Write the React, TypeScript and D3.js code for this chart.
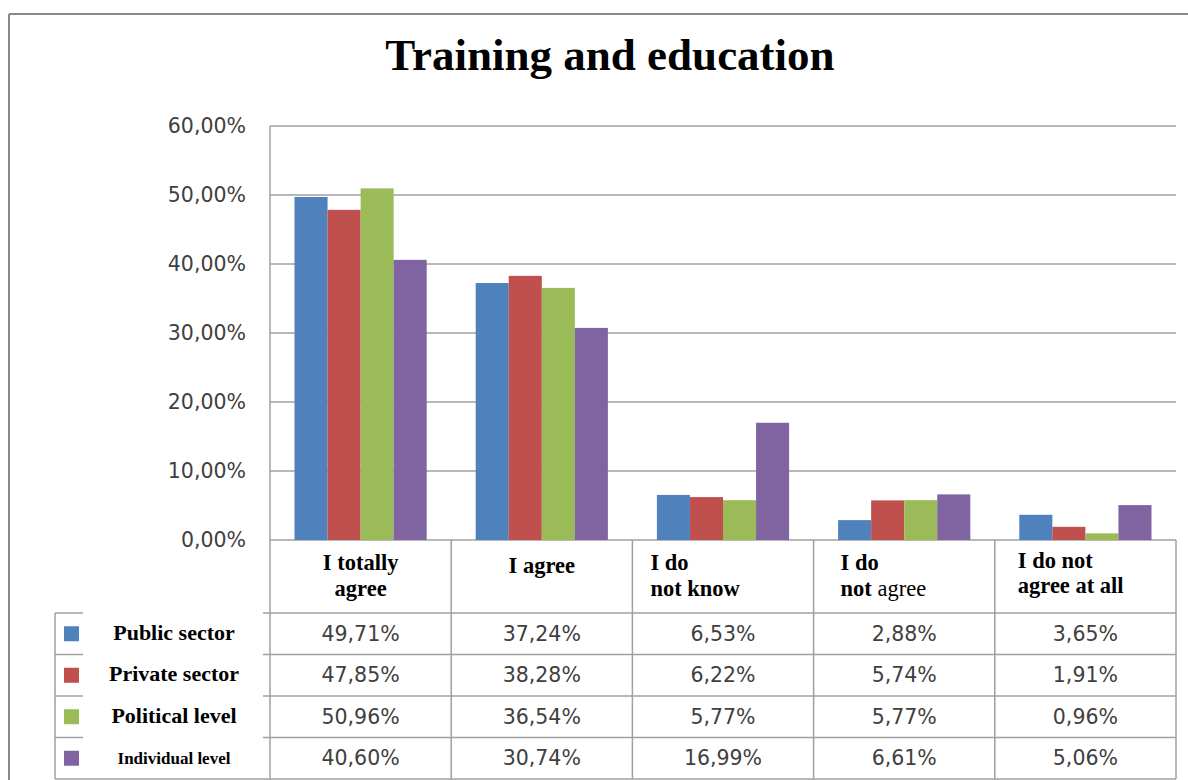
import React from "react";
import * as d3 from "d3";

const categories = ["I totally agree", "I agree", "I do not know", "I do not agree", "I do not agree at all"];
const seriesNames = ["Public sector", "Private sector", "Political level", "Individual level"];
const seriesColors = ["#4F81BD", "#C0504D", "#9BBB59", "#8064A2"];
const publicSector = [49.71, 37.24, 6.53, 2.88, 3.65];
const privateSector = [47.85, 38.28, 6.22, 5.74, 1.91];
const politicalLevel = [50.96, 36.54, 5.77, 5.77, 0.96];
const individualLevel = [40.6, 30.74, 16.99, 6.61, 5.06];
const yTicks = [0, 10, 20, 30, 40, 50, 60];

const seriesValues = [publicSector, privateSector, politicalLevel, individualLevel];

const fmt = (v: number) => v.toFixed(2).replace(".", ",") + "%";

export default function App() {
  const plotLeft = 270, plotRight = 1176, plotTop = 126, plotBottom = 540;
  const x = d3.scaleBand<string>().domain(categories).range([plotLeft, plotRight]);
  const inner = d3.scaleBand<string>().domain(seriesNames).range([24.5, x.bandwidth() - 24.5]);
  const y = d3.scaleLinear().domain([0, 60]).range([plotBottom, plotTop]);

  const headerBottom = 613;
  const rowH = 41.5;
  const tableBottom = headerBottom + rowH * 4;
  const tableLeft = 55;
  const grid = "#A0A0A0";
  const serif = "'Liberation Serif', 'Times New Roman', serif";
  const sans = "'DejaVu Sans', Verdana, sans-serif";

  const boundaries = categories.map((c) => x(c)!).concat([plotRight]);

  return (
    <svg width={1188} height={780} style={{ position: "absolute", left: 0, top: 0, background: "#fff" }}>
      <rect x={0} y={0} width={1188} height={780} fill="#fff" />
      {/* outer frame */}
      <line x1={9} y1={14} x2={1188} y2={14} stroke="#888" strokeWidth={2} />
      <line x1={9} y1={14} x2={9} y2={780} stroke="#888" strokeWidth={2} />

      <text x={610} y={70} textAnchor="middle" fontFamily={serif} fontWeight="bold" fontSize={45} fill="#000">
        Training and education
      </text>

      {/* gridlines */}
      {yTicks.map((t) => (
        <g key={t}>
          <line x1={plotLeft} x2={plotRight} y1={y(t)} y2={y(t)} stroke={grid} strokeWidth={1.5} />
          <text x={246} y={y(t) + 7} textAnchor="end" fontFamily={sans} fontSize={20.5} fill="#404040">
            {fmt(t)}
          </text>
        </g>
      ))}

      {/* bars */}
      {categories.map((c, ci) => (
        <g key={c} transform={`translate(${x(c)},0)`}>
          {seriesNames.map((s, si) => (
            <rect
              key={s}
              x={inner(s)}
              y={y(seriesValues[si][ci])}
              width={inner.bandwidth()}
              height={plotBottom - y(seriesValues[si][ci])}
              fill={seriesColors[si]}
            />
          ))}
        </g>
      ))}

      {/* axis line */}
      <line x1={plotLeft} x2={plotLeft} y1={plotTop} y2={tableBottom} stroke={grid} strokeWidth={1.5} />

      {/* table lines */}
      {boundaries.slice(1).map((b, i) => (
        <line key={i} x1={b} x2={b} y1={plotBottom} y2={tableBottom} stroke={grid} strokeWidth={1.5} />
      ))}
      <line x1={tableLeft} x2={tableLeft} y1={headerBottom} y2={tableBottom} stroke={grid} strokeWidth={1.5} />
      {[0, 1, 2, 3].map((r) => {
        const yy = headerBottom + r * rowH;
        return (
          <g key={r}>
            <line x1={tableLeft} x2={83} y1={yy} y2={yy} stroke={grid} strokeWidth={1.5} />
            <line x1={263} x2={plotRight} y1={yy} y2={yy} stroke={grid} strokeWidth={1.5} />
          </g>
        );
      })}
      <line x1={tableLeft} x2={plotRight} y1={tableBottom} y2={tableBottom} stroke={grid} strokeWidth={1.5} />

      {/* header labels */}
      <g fontFamily={serif} fontWeight="bold" fontSize={22.5} fill="#000">
        <text x={x(categories[0])! + x.bandwidth() / 2} y={570} textAnchor="middle">I totally</text>
        <text x={x(categories[0])! + x.bandwidth() / 2} y={596} textAnchor="middle">agree</text>
        <text x={x(categories[1])! + x.bandwidth() / 2} y={573} textAnchor="middle">I agree</text>
        <text x={x(categories[2])! + 18} y={570}>I do</text>
        <text x={x(categories[2])! + 18} y={596}>not  know</text>
        <text x={x(categories[3])! + 27} y={570}>I do</text>
        <text x={x(categories[3])! + 27} y={596}>
          not <tspan fontWeight="normal">agree</tspan>
        </text>
        <text x={x(categories[4])! + 23} y={568}>I do not</text>
        <text x={x(categories[4])! + 23} y={593}>agree at all</text>
      </g>

      {/* legend + values */}
      {seriesNames.map((s, si) => {
        const cy = headerBottom + si * rowH + rowH / 2;
        return (
          <g key={s}>
            <rect x={64} y={cy - 7.5} width={15} height={15} fill={seriesColors[si]} />
            <text
              x={174}
              y={cy + 6}
              textAnchor="middle"
              fontFamily={serif}
              fontWeight="bold"
              fontSize={si === 3 ? 17 : 22}
              fill="#000"
            >
              {s}
            </text>
            {categories.map((c, ci) => (
              <text
                key={c}
                x={x(c)! + x.bandwidth() / 2}
                y={cy + 7}
                textAnchor="middle"
                fontFamily={sans}
                fontSize={20.5}
                fill="#404040"
              >
                {fmt(seriesValues[si][ci])}
              </text>
            ))}
          </g>
        );
      })}
    </svg>
  );
}
